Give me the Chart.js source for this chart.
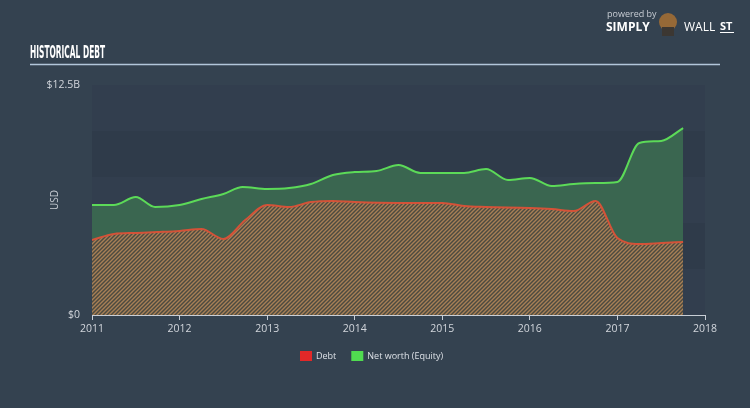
<!DOCTYPE html>
<html>
<head>
<meta charset="utf-8">
<script src="https://cdn.jsdelivr.net/npm/chart.js@4"></script>
<style>
  html, body { margin: 0; padding: 0; background: #344250; }
  #wrap { width: 750px; height: 408px; }
</style>
</head>
<body>
<div id="wrap"><canvas id="myChart" width="750" height="408"></canvas></div>
<script>
    // dates as fractional years
    var debtYears = [2011, 2011.25, 2011.5, 2011.75, 2012, 2012.25, 2012.5, 2012.75, 2013, 2013.25, 2013.5, 2013.75, 2014, 2014.5, 2015, 2015.25, 2015.5, 2016, 2016.25, 2016.5, 2016.75, 2017, 2017.25, 2017.5, 2017.75]
    var debtValues = [4.08, 4.40, 4.46, 4.51, 4.57, 4.67, 4.13, 5.16, 5.98, 5.87, 6.14, 6.20, 6.14, 6.09, 6.09, 5.92, 5.87, 5.82, 5.76, 5.65, 6.20, 4.18, 3.86, 3.91, 3.97]

    var equityYears = [2011, 2011.25, 2011.5, 2011.72, 2012, 2012.25, 2012.5, 2012.72, 2013, 2013.25, 2013.5, 2013.75, 2014, 2014.25, 2014.5, 2014.75, 2015, 2015.25, 2015.5, 2015.75, 2016, 2016.25, 2016.5, 2016.75, 2017, 2017.25, 2017.5, 2017.75]
    var equityValues = [5.98, 5.98, 6.41, 5.87, 5.98, 6.30, 6.58, 6.96, 6.85, 6.90, 7.12, 7.61, 7.77, 7.83, 8.15, 7.72, 7.72, 7.72, 7.93, 7.34, 7.45, 7.01, 7.12, 7.17, 7.23, 9.35, 9.46, 10.16]

    var yTicks = [0, 12.5]
    var yTickLabels = ['$0', '$12.5B']
    var legendLabels = ['Debt', 'Net worth (Equity)']

    function toPoints(xs, ys) {
        var out = []
        for (var i = 0; i < xs.length; i++) out.push({ x: xs[i], y: ys[i] })
        return out
    }

    // diagonal hatch for the debt area
    var pc = document.createElement('canvas')
    pc.width = 4; pc.height = 4
    var pctx = pc.getContext('2d')
    pctx.fillStyle = 'rgb(76,74,64)'
    pctx.fillRect(0, 0, 4, 4)
    pctx.strokeStyle = 'rgb(168,128,86)'
    pctx.lineWidth = 1.4
    pctx.beginPath()
    pctx.moveTo(-1, 5); pctx.lineTo(5, -1)
    pctx.moveTo(-1, 1); pctx.lineTo(1, -1)
    pctx.moveTo(3, 5); pctx.lineTo(5, 3)
    pctx.stroke()
    var ctx = document.getElementById('myChart').getContext('2d')
    var hatch = ctx.createPattern(pc, 'repeat')

    var decorations = {
        id: 'decorations',
        beforeDraw: function(chart) {
            var c = chart.ctx
            var a = chart.chartArea
            var y = chart.scales.y
            c.save()
            c.fillStyle = '#344250'
            c.fillRect(0, 0, chart.width, chart.height)
            // plot bands
            for (var i = 0; i < 5; i++) {
                var top = y.getPixelForValue(12.5 - i * 2.5)
                var bot = y.getPixelForValue(10 - i * 2.5)
                c.fillStyle = (i % 2 == 1) ? 'rgb(47,59,74)' : 'rgb(50,62,78)'
                c.fillRect(a.left, top, a.right - a.left, bot - top)
            }
            // title
            c.fillStyle = '#ffffff'
            c.font = 'bold 17px "Liberation Sans Narrow", "DejaVu Sans Condensed", sans-serif'
            c.textBaseline = 'alphabetic'
            var t = 'HISTORICAL DEBT'
            var w = c.measureText(t).width
            c.save()
            c.translate(30, 58)
            c.scale(75 / w, 1)
            c.fillText(t, 0, 0)
            c.restore()
            c.strokeStyle = 'rgb(178,198,218)'
            c.lineWidth = 1.5
            c.beginPath()
            c.moveTo(30, 64.5); c.lineTo(720, 64.5)
            c.stroke()
            // logo
            c.fillStyle = 'rgb(200,205,212)'
            c.font = '9px "Open Sans", sans-serif'
            c.fillText('powered by', 607, 17)
            c.fillStyle = '#ffffff'
            c.font = 'bold 12px "Open Sans", sans-serif'
            c.fillText('SIMPLY', 606, 31)
            c.fillStyle = 'rgb(150,105,55)'
            c.beginPath()
            c.arc(668, 22, 9, 0, Math.PI * 2)
            c.fill()
            c.fillStyle = 'rgb(60,55,50)'
            c.fillRect(662, 27, 12, 9)
            c.fillStyle = '#ffffff'
            c.font = '12px "Open Sans", sans-serif'
            c.fillText('WALL', 684, 31)
            c.font = 'bold 11px "Open Sans", sans-serif'
            c.fillText('ST', 720, 30)
            c.fillRect(720, 32, 14, 1)
            // y title
            c.save()
            c.translate(58, 200)
            c.rotate(-Math.PI / 2)
            c.fillStyle = 'rgb(200,205,212)'
            c.font = '10px "Open Sans", sans-serif'
            c.textAlign = 'center'
            c.fillText('USD', 0, 0)
            c.restore()
            c.restore()
        },
        afterDraw: function(chart) {
            var c = chart.ctx
            var ds = chart.data.datasets
            c.save()
            c.font = '9px "Open Sans", sans-serif'
            c.textBaseline = 'middle'
            var x = 300
            var yy = 356
            for (var i = 0; i < ds.length; i++) {
                c.fillStyle = i == 0 ? 'rgb(226,40,40)' : 'rgb(80,220,80)'
                c.fillRect(x, yy - 5, 12, 10)
                c.fillStyle = 'rgb(220,224,230)'
                c.fillText(legendLabels[i], x + 16, yy)
                x += 16 + c.measureText(legendLabels[i]).width + 15
            }
            c.restore()
        }
    }

    var myChart = new Chart(ctx, {
        type: 'line',
        data: {
            datasets: [{
                label: legendLabels[0],
                data: toPoints(debtYears, debtValues),
                borderColor: 'rgb(212,82,56)',
                backgroundColor: hatch,
                fill: 'origin',
                borderWidth: 2,
                pointRadius: 0,
                cubicInterpolationMode: 'monotone',
                order: 0
            }, {
                label: legendLabels[1],
                data: toPoints(equityYears, equityValues),
                borderColor: 'rgb(92,218,88)',
                backgroundColor: 'rgb(58,102,80)',
                fill: 'origin',
                borderWidth: 2,
                pointRadius: 0,
                cubicInterpolationMode: 'monotone',
                order: 1
            }]
        },
        options: {
            responsive: false,
            animation: false,
            layout: { padding: { top: 85, right: 45, left: 0, bottom: 0 } },
            plugins: {
                legend: { display: false },
                tooltip: { enabled: false }
            },
            scales: {
                x: {
                    type: 'linear',
                    min: 2011,
                    max: 2018,
                    afterFit: function(s) { s.height = 93 },
                    ticks: {
                        stepSize: 1,
                        color: 'rgb(210,214,220)',
                        font: { size: 10.5, family: '"Open Sans", sans-serif' },
                        padding: 3,
                        callback: function(v) { return String(v) }
                    },
                    grid: { drawOnChartArea: false, color: 'rgb(200,206,214)', tickLength: 5 },
                    border: { color: 'rgb(200,206,214)', width: 1 }
                },
                y: {
                    min: 0,
                    max: 12.5,
                    afterFit: function(s) { s.width = 92 },
                    afterBuildTicks: function(s) {
                        s.ticks = yTicks.map(function(v) { return { value: v } })
                    },
                    ticks: {
                        color: 'rgb(210,214,220)',
                        font: { size: 10.5, family: '"Open Sans", sans-serif' },
                        padding: 12,
                        callback: function(v) {
                            var i = yTicks.indexOf(v)
                            return i >= 0 ? yTickLabels[i] : ''
                        }
                    },
                    grid: { display: false, drawTicks: false },
                    border: { display: false }
                }
            }
        },
        plugins: [decorations]
    });
</script>
</body>
</html>
